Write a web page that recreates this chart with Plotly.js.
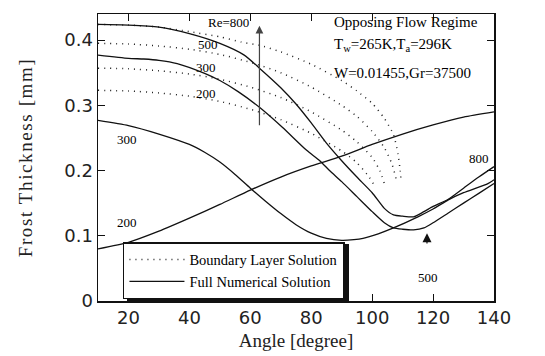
<!DOCTYPE html>
<html>
<head>
<meta charset="utf-8">
<script src="https://cdn.plot.ly/plotly-3.0.1.min.js"></script>
<style>html,body{margin:0;padding:0;background:#fff;}#chart{width:545px;height:356px;}
#chart .g-ytitle text{letter-spacing:1.6px;}</style>
</head>
<body>
<div id="chart"></div>
<script>
// Full numerical solution (solid)
const angS800 = [10,20,30,40,50,58,63,70,75,80,85,90,95,100,104,107,110,113.6,117,120,125,130,135,140];
const thkS800 = [0.424,0.423,0.420,0.410,0.395,0.377,0.357,0.327,0.302,0.273,0.242,0.215,0.190,0.166,0.142,0.132,0.130,0.129,0.137,0.145,0.156,0.173,0.190,0.206];
const angS500 = [10,20,25,30,36,45,50,56,63,70.6,78.5,82.8,86,90,95,100,104,107,110,113.6,117,120,125,130,135,140];
const thkS500 = [0.377,0.372,0.371,0.369,0.364,0.349,0.338,0.321,0.297,0.266,0.231,0.215,0.200,0.183,0.160,0.137,0.120,0.112,0.110,0.109,0.112,0.120,0.135,0.150,0.165,0.180];
const angS300 = [10,20,30,40,45,50,55,60,65,70,75,80,85,90,94,97,102,107,115,120,125,130,138,140];
const thkS300 = [0.277,0.269,0.256,0.240,0.228,0.213,0.194,0.173,0.153,0.134,0.117,0.104,0.096,0.093,0.094,0.096,0.103,0.112,0.129,0.141,0.155,0.166,0.180,0.186];
const angS200 = [10,20,30,40,50,60,70,80,90,100,110,120,130,140];
const thkS200 = [0.080,0.090,0.107,0.127,0.148,0.170,0.190,0.207,0.222,0.240,0.256,0.270,0.282,0.290];
// Boundary layer solution (dotted)
const angD800 = [10,20,30,40,50,57,63,70,80,90,95,100,104,107,108.5,109.2,109.5];
const thkD800 = [0.424,0.423,0.420,0.413,0.405,0.397,0.392,0.382,0.363,0.338,0.322,0.303,0.280,0.255,0.225,0.200,0.185];
const angD500 = [10,20,30,40,50,60,70,80,90,95,100,104,106.5,108];
const thkD500 = [0.395,0.394,0.391,0.386,0.378,0.366,0.350,0.328,0.300,0.283,0.260,0.235,0.210,0.185];
const angD300 = [10,20,30,40,50,60,70,80,90,95,100,102.5,104];
const thkD300 = [0.357,0.356,0.353,0.348,0.340,0.328,0.312,0.290,0.262,0.244,0.220,0.200,0.180];
const angD200 = [10,20,30,40,50,60,70,80,90,95,99,101];
const thkD200 = [0.323,0.322,0.319,0.314,0.306,0.294,0.278,0.257,0.230,0.212,0.190,0.175];

const legendNames = ["Boundary Layer Solution", "Full Numerical Solution"];
const xTicks = [20,40,60,80,100,120,140];
const yTicks = [0,0.1,0.2,0.3,0.4];

const serif = "Liberation Serif, Times New Roman, serif";
const solid = {color:"#111", width:1.3, shape:"spline", smoothing:0.6};
const dotted = {color:"#222", width:1.5, dash:"1px,5px", shape:"spline", smoothing:0.6};

function tr(x, y, line, name, show) {
  return {x:x, y:y, mode:"lines", line:line, name:name, showlegend:show, hoverinfo:"skip"};
}
const data = [
  tr(angD800, thkD800, dotted, legendNames[0], true),
  tr(angD500, thkD500, dotted, legendNames[0], false),
  tr(angD300, thkD300, dotted, legendNames[0], false),
  tr(angD200, thkD200, dotted, legendNames[0], false),
  tr(angS800, thkS800, solid, legendNames[1], true),
  tr(angS500, thkS500, solid, legendNames[1], false),
  tr(angS300, thkS300, solid, legendNames[1], false),
  tr(angS200, thkS200, solid, legendNames[1], false)
];

function lab(x, y, t) {
  return {x:x, y:y, xref:"x", yref:"y", text:t, showarrow:false, font:{family:serif, size:13, color:"#000"}};
}
function note(y, t) {
  return {x:0.59, y:y, xref:"paper", yref:"paper", text:t, showarrow:false, xanchor:"left", yanchor:"middle", font:{family:serif, size:15, color:"#000"}};
}
const annotations = [
  lab(53, 0.427, "Re=800"),
  lab(46, 0.393, "500"),
  lab(45.5, 0.358, "300"),
  lab(45.5, 0.318, "200"),
  lab(19.5, 0.247, "300"),
  lab(19.5, 0.120, "200"),
  lab(135, 0.219, "800"),
  lab(118.3, 0.036, "500"),
  note(0.972, "Opposing Flow Regime"),
  note(0.893, "T<sub>w</sub>=265K,T<sub>a</sub>=296K"),
  note(0.794, "W=0.01455,Gr=37500"),
  {x:63, y:0.422, ax:63, ay:0.267, xref:"x", yref:"y", axref:"x", ayref:"y", text:"", showarrow:true, arrowhead:2, arrowsize:1.3, arrowwidth:1.2, arrowcolor:"#444"},
  {x:118, y:0.104, ax:118, ay:0.086, xref:"x", yref:"y", axref:"x", ayref:"y", text:"", showarrow:true, arrowhead:2, arrowsize:1.5, arrowwidth:1.2, arrowcolor:"#111"}
];

// legend drop shadow (paper coords of plot area: left 98px, width 396px, bottom 301px, height 287px)
const shadowPx = {x0:127, x1:349, y0:244, y1:303};
const px2x = v => (v - 98) / 396;
const px2y = v => (301 - v) / 287;

const layout = {
  width:545, height:356,
  margin:{l:98, r:51, t:14, b:55},
  paper_bgcolor:"#fff", plot_bgcolor:"#fff",
  showlegend:true,
  legend:{x:0.063, y:0.205, xanchor:"left", yanchor:"top", bgcolor:"#fff", bordercolor:"#111", borderwidth:1.5,
          font:{family:serif, size:14.5, color:"#000"}, itemwidth:55, tracegroupgap:0},
  shapes:[
    {type:"rect", xref:"paper", yref:"paper", layer:"above",
     x0:px2x(shadowPx.x0), x1:px2x(shadowPx.x1), y0:px2y(shadowPx.y1), y1:px2y(shadowPx.y0),
     fillcolor:"#111", line:{width:0}}
  ],
  xaxis:{range:[10,140], tickvals:xTicks, ticks:"inside", ticklen:7, tickcolor:"#111", mirror:"ticks",
         showline:true, linecolor:"#111", linewidth:1.5, showgrid:false, zeroline:false,
         tickfont:{family:"DejaVu Sans, sans-serif", size:18, color:"#222"},
         title:{text:"Angle [degree]", font:{family:serif, size:19, color:"#222"}, standoff:6}},
  yaxis:{range:[0,0.44], tickvals:yTicks, ticks:"inside", ticklen:7, tickcolor:"#111", mirror:"ticks",
         showline:true, linecolor:"#111", linewidth:1.5, showgrid:false, zeroline:false,
         tickfont:{family:"DejaVu Sans, sans-serif", size:18, color:"#222"},
         title:{text:"Frost Thickness [mm]", font:{family:serif, size:19, color:"#222"}, standoff:26}},
  annotations:annotations
};
Plotly.newPlot("chart", data, layout, {staticPlot:true, displayModeBar:false});
</script>
</body>
</html>
